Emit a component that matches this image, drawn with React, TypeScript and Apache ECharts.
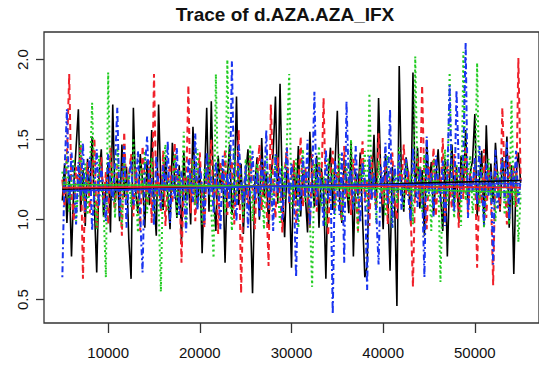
import React, { useEffect, useRef } from "react";
import * as echarts from "echarts";

const ITER_START = 5000;
const ITER_STEP = 250;

const chainBlack = [
  1.12, 1.35, 0.98, 1.28, 0.77, 1.22, 1.45, 1.69, 1.05, 1.31,
  0.96, 1.38, 1.15, 1.52, 1.08, 0.67, 1.27, 1.44, 1.02, 1.19,
  1.36, 0.92, 1.72, 1.11, 1.29, 0.99, 1.47, 1.14, 1.33, 0.88,
  0.63, 1.70, 1.18, 1.04, 1.41, 1.24, 0.95, 1.37, 1.09, 1.56,
  1.13, 0.90, 1.72, 1.21, 1.06, 1.39, 1.16, 0.94, 1.48, 1.25,
  1.01, 1.34, 0.86, 1.43, 1.12, 1.27, 0.97, 1.58, 1.20, 1.08,
  1.36, 0.79, 1.23, 1.70, 1.05, 1.74, 1.15, 0.93, 1.40, 1.19,
  1.31, 0.73, 1.26, 1.47, 1.03, 1.17, 1.77, 1.09, 1.35, 0.91,
  1.28, 1.44, 1.07, 0.54, 1.22, 1.39, 1.00, 1.51, 1.14, 1.30,
  0.96, 1.25, 1.42, 1.77, 1.10, 1.85, 1.18, 0.89, 1.33, 1.21,
  0.70, 1.37, 1.13, 1.46, 1.02, 1.29, 1.16, 0.92, 1.55, 1.24,
  1.08, 1.40, 0.95, 1.32, 1.19, 0.63, 1.27, 1.45, 1.06, 1.35,
  1.68, 1.11, 0.98, 1.38, 1.23, 1.04, 1.49, 0.77, 1.30, 1.15,
  1.42, 1.01, 0.64, 0.71, 1.36, 1.20, 1.53, 1.09, 1.76, 1.26,
  0.94, 1.41, 1.17, 0.68, 1.33, 1.12, 0.46, 1.96, 1.22, 1.05,
  1.39, 1.28, 0.97, 1.92, 1.14, 1.45, 1.07, 1.31, 0.90, 1.50,
  1.21, 1.36, 1.03, 1.27, 1.44, 1.16, 0.93, 1.38, 0.77, 1.25,
  1.47, 1.10, 1.33, 0.99, 1.40, 1.19, 1.56, 1.08, 1.29, 1.37,
  1.66, 1.02, 1.24, 1.43, 0.96, 1.59, 1.18, 1.35, 1.11, 1.48,
  1.26, 1.05, 1.39, 1.21, 1.52, 0.95, 1.34, 0.66, 1.28, 1.42,
  1.23,
];

const chainRed = [
  1.25, 1.08, 1.40, 1.91, 1.16, 0.99, 1.33, 1.22, 1.47, 0.63,
  1.19, 1.36, 1.04, 1.28, 1.51, 0.94, 1.24, 1.39, 1.11, 1.30,
  0.97, 1.45, 1.17, 1.06, 1.34, 1.21, 0.90, 1.55, 1.13, 1.27,
  1.41, 1.02, 1.32, 1.18, 0.93, 1.46, 1.25, 1.09, 1.37, 0.98,
  1.91, 1.14, 1.29, 1.05, 1.43, 0.96, 1.23, 1.35, 1.10, 1.48,
  1.20, 1.31, 0.73, 1.27, 1.16, 1.84, 1.04, 1.38, 0.99, 1.26,
  1.42, 1.12, 0.95, 1.33, 1.22, 1.50, 1.07, 1.29, 0.91, 1.36,
  1.18, 1.44, 1.03, 1.25, 1.37, 0.97, 1.21, 1.56, 0.54, 1.14,
  1.32, 1.09, 1.40, 1.19, 0.94, 1.28, 1.47, 1.06, 1.35, 1.15,
  0.71, 1.72, 1.23, 1.01, 1.39, 1.17, 0.92, 1.30, 1.45, 1.10,
  1.26, 1.37, 0.98, 1.21, 1.52, 1.08, 1.33, 1.16, 0.95, 1.41,
  1.24, 1.05, 1.36, 1.19, 1.76, 1.12, 0.90, 1.29, 1.43, 1.07,
  1.34, 1.20, 0.99, 1.46, 1.14, 1.27, 1.03, 1.38, 1.22, 0.93,
  1.31, 1.49, 1.11, 1.25, 0.96, 1.40, 1.18, 1.06, 1.54, 1.23,
  1.09, 1.35, 0.97, 1.28, 1.42, 1.13, 1.00, 1.37, 1.21, 1.47,
  1.15, 1.30, 1.04, 0.58, 1.26, 1.39, 1.11, 1.84, 1.19, 0.94,
  1.33, 1.22, 1.45, 1.02, 1.28, 1.16, 1.51, 0.98, 1.36, 1.20,
  1.07, 1.41, 1.25, 0.95, 1.32, 1.13, 1.46, 1.04, 1.29, 1.18,
  1.38, 0.70, 1.23, 1.10, 1.44, 1.01, 1.31, 1.17, 0.59, 1.35,
  1.21, 1.06, 1.70, 1.27, 0.97, 1.40, 1.15, 1.33, 1.08, 2.01,
  1.24,
];

const chainGreen = [
  1.30, 1.17, 1.42, 1.05, 1.26, 1.38, 0.99, 1.21, 1.49, 1.12,
  1.35, 1.03, 1.28, 1.73, 1.15, 0.94, 1.40, 1.22, 1.07, 0.64,
  1.92, 1.19, 1.33, 1.01, 1.45, 1.24, 0.96, 1.37, 1.13, 1.29,
  1.08, 1.51, 1.20, 0.92, 1.36, 1.16, 1.43, 1.04, 1.27, 1.39,
  0.98, 1.23, 1.11, 0.55, 1.34, 1.47, 1.06, 1.25, 1.18, 1.41,
  1.02, 1.31, 1.14, 1.55, 0.95, 1.28, 1.20, 1.37, 1.09, 1.44,
  1.17, 0.97, 1.32, 1.24, 1.40, 1.06, 0.76, 1.91, 1.15, 1.29,
  1.36, 1.04, 2.00, 1.21, 0.93, 1.45, 1.12, 1.33, 1.26, 1.01,
  1.38, 1.18, 1.47, 0.99, 1.23, 1.35, 1.10, 1.29, 0.94, 1.42,
  1.16, 1.31, 1.05, 1.40, 1.20, 0.97, 1.34, 1.13, 1.49, 1.91,
  1.07, 1.26, 1.38, 0.95, 1.22, 1.44, 1.11, 1.30, 1.02, 0.58,
  1.35, 1.19, 1.46, 1.08, 1.27, 0.96, 1.39, 1.15, 1.32, 1.03,
  1.24, 1.41, 0.99, 1.18, 1.36, 1.12, 1.50, 1.06, 1.28, 0.92,
  1.33, 1.21, 1.43, 1.04, 1.79, 1.17, 1.30, 0.98, 1.37, 1.14,
  1.25, 1.02, 1.40, 1.19, 0.94, 1.32, 1.10, 1.45, 1.23, 1.07,
  1.36, 1.15, 1.28, 0.97, 2.02, 1.20, 1.34, 1.05, 1.41, 1.13,
  1.26, 0.93, 1.38, 1.16, 1.30, 0.61, 1.22, 1.44, 1.09, 1.92,
  1.18, 1.01, 1.35, 1.24, 0.96, 2.05, 1.12, 1.29, 1.40, 1.04,
  1.21, 1.98, 1.08, 1.33, 0.95, 1.17, 1.38, 1.11, 1.26, 0.99,
  1.30, 1.14, 1.37, 1.03, 1.22, 0.97, 1.75, 1.09, 1.28, 0.86,
  1.16,
];

const chainBlue = [
  0.64, 1.31, 1.69, 1.10, 1.42, 1.23, 0.97, 1.36, 1.15, 1.48,
  1.05, 1.27, 1.39, 0.93, 1.20, 1.44, 1.08, 1.33, 1.17, 0.99,
  1.41, 1.22, 1.12, 1.35, 1.70, 1.02, 1.29, 1.46, 0.95, 1.25,
  1.37, 1.09, 1.19, 1.43, 1.01, 0.67, 1.32, 1.52, 1.14, 1.26,
  0.96, 1.40, 1.21, 1.07, 1.34, 1.18, 1.49, 0.98, 1.28, 1.13,
  1.45, 1.03, 1.30, 1.16, 0.92, 1.38, 1.24, 1.11, 1.54, 1.06,
  1.33, 1.20, 0.97, 1.42, 1.15, 1.27, 1.04, 1.36, 1.22, 0.94,
  1.40, 1.13, 1.29, 1.08, 1.99, 1.18, 0.99, 1.47, 1.25, 1.10,
  1.34, 0.95, 1.21, 1.43, 1.12, 1.30, 1.02, 1.38, 1.19, 1.56,
  1.07, 1.26, 0.93, 1.41, 1.16, 1.32, 1.00, 1.23, 1.45, 1.11,
  1.35, 1.19, 0.64, 1.28, 1.05, 1.39, 1.14, 1.50, 0.97, 1.24,
  1.80, 1.09, 1.33, 1.20, 0.96, 1.44, 1.13, 1.27, 0.41, 1.37,
  1.18, 1.03, 1.42, 0.73, 1.74, 1.22, 1.31, 1.06, 1.46, 1.15,
  0.98, 1.36, 1.25, 0.56, 1.40, 1.12, 1.29, 1.04, 0.72, 1.33,
  1.21, 1.48, 1.10, 1.69, 0.95, 1.34, 1.17, 1.41, 1.06, 1.26,
  1.38, 1.14, 0.99, 1.45, 1.23, 1.08, 1.32, 1.19, 0.64, 1.52,
  1.16, 1.29, 1.02, 1.40, 1.24, 1.11, 1.37, 0.96, 1.28, 1.84,
  1.20, 1.05, 1.81, 1.33, 1.13, 1.42, 2.11, 1.01, 1.27, 1.18,
  1.39, 1.09, 1.46, 1.22, 0.97, 1.35, 1.15, 1.30, 0.72, 1.44,
  1.07, 1.26, 1.38, 1.12, 1.49, 1.00, 1.31, 1.19, 1.43, 1.10,
  1.25,
];

// lowess smoother readings
const smoothIter = [5000, 15000, 25000, 35000, 45000, 55000];
const smoothBlack = [1.19, 1.2, 1.21, 1.215, 1.23, 1.245];
const smoothRed = [1.2, 1.205, 1.21, 1.21, 1.205, 1.2];
const smoothGreen = [1.22, 1.215, 1.21, 1.2, 1.185, 1.17];
const smoothBlue = [1.18, 1.19, 1.205, 1.215, 1.22, 1.225];

const xTicks = [10000, 20000, 30000, 40000, 50000];
const yTicks = [0.5, 1.0, 1.5, 2.0];
const titleText = "Trace of d.AZA.AZA_IFX";

const FONT = "'Liberation Sans', Arial, Helvetica, sans-serif";

export default function App() {
  const ref = useRef<HTMLDivElement>(null);
  useEffect(() => {
    if (!ref.current) return;
    const chart = echarts.init(ref.current, null, { renderer: "svg" });
    const toPairs = (arr: number[]) => arr.map((v, i) => [ITER_START + i * ITER_STEP, v]);
    const smPairs = (arr: number[]) => arr.map((v, i) => [smoothIter[i], v]);
    const chains = [
      { data: chainBlack, color: "#000000", type: "solid" as any, width: 1.6 },
      { data: chainRed, color: "#f0202a", type: [6, 4], width: 2 },
      { data: chainGreen, color: "#22cc22", type: [2, 3], width: 2 },
      { data: chainBlue, color: "#1a35f0", type: [2, 3, 6, 3], width: 2 },
    ];
    const smooths = [
      { data: smoothBlack, color: "#000000" },
      { data: smoothRed, color: "#f0202a" },
      { data: smoothGreen, color: "#22cc22" },
      { data: smoothBlue, color: "#1a35f0" },
    ];
    const series: any[] = [];
    chains.forEach((c) => {
      series.push({
        type: "line",
        data: toPairs(c.data),
        symbol: "none",
        silent: true,
        lineStyle: { color: c.color, width: c.width, type: c.type },
      });
    });
    smooths.forEach((s) => {
      series.push({
        type: "line",
        data: smPairs(s.data),
        symbol: "none",
        smooth: true,
        silent: true,
        lineStyle: { color: s.color, width: 1.6, type: "solid" },
      });
    });
    chart.setOption({
      animation: false,
      grid: {
        left: 44,
        top: 32,
        width: 498,
        height: 291,
        show: true,
        borderColor: "#333",
        borderWidth: 1.3,
        backgroundColor: "transparent",
      },
      graphic: [
        {
          type: "text",
          x: 285,
          y: 14,
          style: {
            text: titleText,
            font: `bold 19px ${FONT}`,
            fill: "#111",
            textAlign: "center",
            textVerticalAlign: "middle",
          },
        },
      ],
      xAxis: {
        type: "value",
        min: 3000,
        max: 57000,
        axisLine: { show: false },
        splitLine: { show: false },
        axisTick: {
          show: true,
          customValues: xTicks,
          length: 10,
          lineStyle: { color: "#333", width: 1.3 },
        },
        axisLabel: {
          customValues: xTicks,
          margin: 22,
          color: "#111",
          fontSize: 15,
          fontFamily: FONT,
          formatter: (v: number) => String(v),
        },
      },
      yAxis: {
        type: "value",
        min: 0.354,
        max: 2.173,
        axisLine: { show: false },
        splitLine: { show: false },
        axisTick: {
          show: true,
          customValues: yTicks,
          length: 8,
          lineStyle: { color: "#333", width: 1.3 },
        },
        axisLabel: {
          customValues: yTicks,
          rotate: 90,
          margin: 14,
          color: "#111",
          fontSize: 15,
          fontFamily: FONT,
          formatter: (v: number) => v.toFixed(1),
        },
      },
      series,
    });
    return () => chart.dispose();
  }, []);
  return (
    <div
      ref={ref}
      style={{ position: "absolute", left: 0, top: 0, width: 539, height: 366, background: "#fff" }}
    />
  );
}
